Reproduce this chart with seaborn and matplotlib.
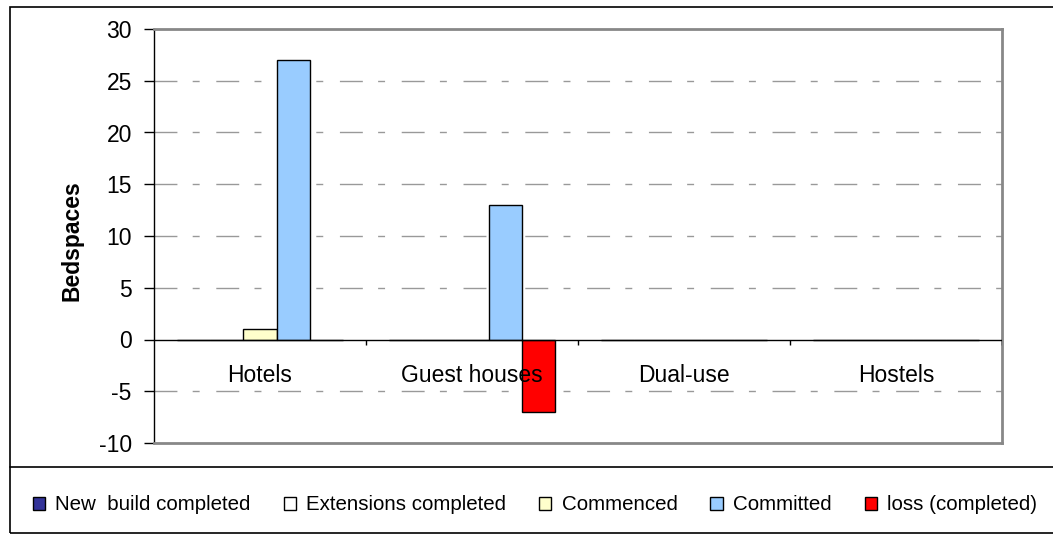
import matplotlib
matplotlib.use("Agg")
import matplotlib.pyplot as plt
import seaborn as sns
import pandas as pd
from matplotlib.patches import Patch, Rectangle
from matplotlib.lines import Line2D

categories = ["Hotels", "Guest houses", "Dual-use", "Hostels"]
series_names = ["New  build completed", "Extensions completed", "Commenced",
                "Committed", "loss (completed)"]
new_build = [0, 0, 0, 0]
extensions = [0, 0, 0, 0]
commenced = [1, 0, 0, 0]
committed = [27, 13, 0, 0]
loss = [0, -7, 0, 0]
series_values = [new_build, extensions, commenced, committed, loss]
colors = ["#333399", "#FFFFFF", "#FFFFCC", "#99CCFF", "#FF0000"]
yticks = [-10, -5, 0, 5, 10, 15, 20, 25, 30]

rows = []
for name, vals in zip(series_names, series_values):
    for c, v in zip(categories, vals):
        rows.append({"category": c, "series": name, "value": v})
df = pd.DataFrame(rows)

sns.set_style("white")
plt.rcParams["font.family"] = ["Liberation Sans", "DejaVu Sans"]
plt.rcParams["text.color"] = "black"
plt.rcParams["axes.labelcolor"] = "black"
plt.rcParams["ytick.color"] = "black"
plt.rcParams["xtick.color"] = "black"

W, H = 1053, 534
fig = plt.figure(figsize=(W / 100, H / 100), dpi=100)
ax = fig.add_axes([154 / W, 1 - 443 / H, (1002 - 154) / W, (443 - 29) / H])

sns.barplot(data=df, x="category", y="value", hue="series", order=categories,
            hue_order=series_names, palette=colors, edgecolor="black",
            linewidth=1, width=0.78, saturation=1, ax=ax, legend=False)

ax.set_ylim(-10, 30)
ax.set_xlim(-0.5, len(categories) - 0.5)
ax.set_yticks(yticks)
ax.set_yticklabels([str(t) for t in yticks], fontsize=16.5, color="black")
ax.tick_params(axis="y", direction="out", length=7, width=1, color="black",
               pad=9, left=True, labelcolor="black")
ax.set_xticks([])
ax.set_xlabel("")
ax.set_ylabel("Bedspaces", fontsize=16.5, fontweight="bold", color="black")
ax.yaxis.set_label_coords(-0.083, 0.49)

# grid lines
for t in yticks:
    if t in (-10, 0, 30):
        continue
    ax.axhline(t, color="#999999", lw=1, dashes=(16.5, 11, 5, 12), zorder=0)

# zero axis line with category boundary ticks
ax.axhline(0, color="black", lw=1, zorder=3)
ax.vlines([i + 0.5 for i in range(len(categories))], -0.55, 0,
          color="black", lw=1, zorder=3)

for i, c in enumerate(categories):
    ax.text(i, -3.45, c, ha="center", va="center", fontsize=16.5,
            color="black", zorder=4)

for s in ["top", "right", "bottom"]:
    ax.spines[s].set_color("#888888")
    ax.spines[s].set_linewidth(2)
ax.spines["left"].set_color("black")
ax.spines["left"].set_linewidth(1)

# chart border and legend box
fig.patches.append(Rectangle((10 / W, 1 / H), 1.1, (533 - 7) / H,
                             transform=fig.transFigure, fill=False,
                             edgecolor="black", lw=1.2))
fig.lines.append(Line2D([10 / W, 1.0], [1 - 467 / H, 1 - 467 / H],
                        transform=fig.transFigure, color="black", lw=1.2))

handles = [Patch(facecolor=col, edgecolor="black", lw=1) for col in colors]
fig.legend(handles, series_names, loc="center", bbox_to_anchor=(0.508, 1 - 505 / H),
           ncol=5, frameon=False, fontsize=14.8, handlelength=0.6,
           handleheight=0.6, handletextpad=0.5, columnspacing=1.6,
           labelcolor="black")

fig.savefig("out.png", dpi=100)
